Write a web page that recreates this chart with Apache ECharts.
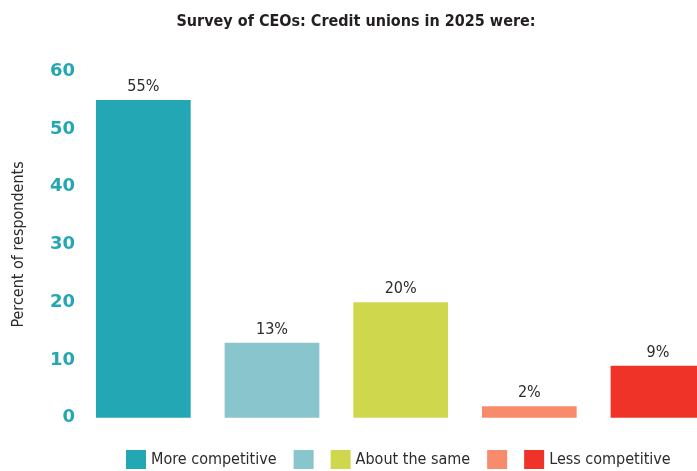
<!DOCTYPE html>
<html>
<head>
<meta charset="utf-8">
<script src="https://cdn.jsdelivr.net/npm/echarts@6/dist/echarts.min.js"></script>
<style>html,body{margin:0;padding:0;background:#fff;}#c{width:697px;height:471px;}</style>
</head>
<body>
<div id="c"></div>
<script>
// Data
const seriesNames = ['More competitive', 'blank1', 'About the same', 'blank2', 'Less competitive'];
const legendLabels = ['More competitive', '', 'About the same', '', 'Less competitive'];
const values = [55, 13, 20, 2, 9];
const colors = ['#23a7b4', '#89c5cc', '#cfd74c', '#f78b6c', '#ef3329'];
const yTicks = [0, 10, 20, 30, 40, 50, 60];

const narrow = '"Liberation Sans Narrow", "DejaVu Sans Condensed", sans-serif';
const labelMap = {};
seriesNames.forEach((n, i) => { labelMap[n] = legendLabels[i]; });

const series = seriesNames.map((name, i) => ({
  name: name,
  type: 'bar',
  stack: 'all',
  barCategoryGap: '26.4%',
  itemStyle: { color: colors[i] },
  label: {
    show: true,
    position: 'top',
    distance: 5,
    formatter: '{c}%',
    fontFamily: narrow,
    fontSize: 16,
    color: '#2b2b2b'
  },
  data: values.map((v, j) => (j === i ? v : '-'))
}));

const chart = echarts.init(document.getElementById('c'), null, { renderer: 'canvas' });
chart.setOption({
  animation: false,
  backgroundColor: '#ffffff',
  title: {
    text: 'Survey of CEOs: Credit unions in 2025 were:',
    left: 356,
    textAlign: 'center',
    top: 14,
    padding: 0,
    textStyle: { fontFamily: narrow, fontWeight: 'bold', fontSize: 16, color: '#231f20' }
  },
  legend: {
    left: 126,
    top: 450,
    width: 640,
    padding: 0,
    itemWidth: 20,
    itemHeight: 19,
    itemGap: 17,
    icon: 'rect',
    data: seriesNames,
    formatter: function (n) { return labelMap[n]; },
    selectedMode: false,
    textStyle: { fontFamily: narrow, fontSize: 16, color: '#2b2b2b', padding: [0, 0, 0, 0] }
  },
  grid: { left: 79, width: 643.3, top: 71.2, bottom: 53.3, containLabel: false, outerBoundsMode: 'none' },
  xAxis: {
    type: 'category',
    data: seriesNames,
    axisLine: { show: false },
    axisTick: { show: false },
    axisLabel: { show: false },
    splitLine: { show: false }
  },
  yAxis: {
    type: 'value',
    min: yTicks[0],
    max: yTicks[yTicks.length - 1],
    interval: 10,
    name: 'Percent of respondents',
    nameLocation: 'middle',
    nameGap: 52,
    nameTextStyle: { fontFamily: narrow, fontSize: 16, color: '#2b2b2b' },
    axisLine: { show: false },
    axisTick: { show: false },
    splitLine: { show: false },
    axisLabel: {
      margin: 4,
      fontFamily: '"DejaVu Sans", sans-serif',
      fontWeight: 'bold',
      fontSize: 18,
      color: '#24a7b3'
    }
  },
  series: series
});
</script>
</body>
</html>
